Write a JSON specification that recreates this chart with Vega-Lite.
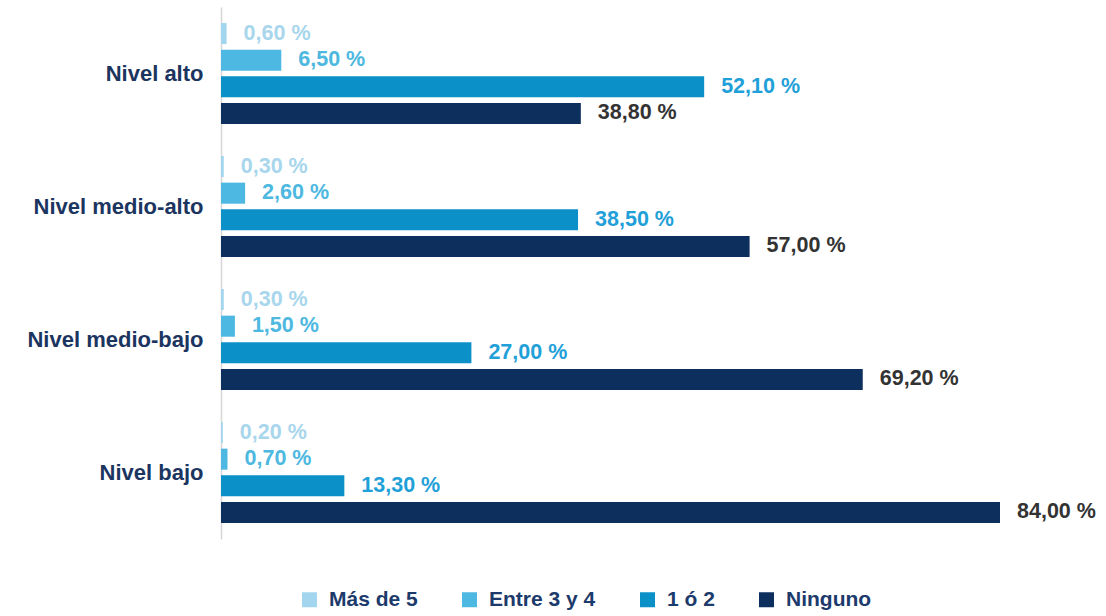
{
  "$schema": "https://vega.github.io/schema/vega-lite/v6.json",
  "width": 779,
  "height": 532,
  "autosize": {"type": "none"},
  "padding": {"left": 221, "top": 7, "right": 106, "bottom": 77},
  "background": "white",
  "data": {
    "values": [
      {"nivel": "Nivel alto", "serie": "Más de 5", "valor": 0.6},
      {"nivel": "Nivel alto", "serie": "Entre 3 y 4", "valor": 6.5},
      {"nivel": "Nivel alto", "serie": "1 ó 2", "valor": 52.1},
      {"nivel": "Nivel alto", "serie": "Ninguno", "valor": 38.8},
      {"nivel": "Nivel medio-alto", "serie": "Más de 5", "valor": 0.3},
      {"nivel": "Nivel medio-alto", "serie": "Entre 3 y 4", "valor": 2.6},
      {"nivel": "Nivel medio-alto", "serie": "1 ó 2", "valor": 38.5},
      {"nivel": "Nivel medio-alto", "serie": "Ninguno", "valor": 57.0},
      {"nivel": "Nivel medio-bajo", "serie": "Más de 5", "valor": 0.3},
      {"nivel": "Nivel medio-bajo", "serie": "Entre 3 y 4", "valor": 1.5},
      {"nivel": "Nivel medio-bajo", "serie": "1 ó 2", "valor": 27.0},
      {"nivel": "Nivel medio-bajo", "serie": "Ninguno", "valor": 69.2},
      {"nivel": "Nivel bajo", "serie": "Más de 5", "valor": 0.2},
      {"nivel": "Nivel bajo", "serie": "Entre 3 y 4", "valor": 0.7},
      {"nivel": "Nivel bajo", "serie": "1 ó 2", "valor": 13.3},
      {"nivel": "Nivel bajo", "serie": "Ninguno", "valor": 84.0}
    ]
  },
  "transform": [
    {"calculate": "replace(format(datum.valor, '.2f'), '.', ',') + ' %'", "as": "etiqueta"}
  ],
  "encoding": {
    "y": {
      "field": "nivel",
      "type": "nominal",
      "sort": ["Nivel alto", "Nivel medio-alto", "Nivel medio-bajo", "Nivel bajo"],
      "scale": {"paddingInner": 0, "paddingOuter": 0},
      "axis": {
        "title": null,
        "ticks": false,
        "grid": false,
        "domain": true,
        "domainColor": "#d6d6d6",
        "domainWidth": 1.5,
        "labelFont": "Liberation Sans",
        "labelFontWeight": "bold",
        "labelFontSize": 22,
        "labelColor": "#1c3560",
        "labelPadding": 18
      }
    },
    "yOffset": {
      "field": "serie",
      "type": "nominal",
      "sort": ["Más de 5", "Entre 3 y 4", "1 ó 2", "Ninguno"],
      "scale": {"paddingInner": 0.21, "paddingOuter": 0.6}
    },
    "x": {
      "field": "valor",
      "type": "quantitative",
      "scale": {"domain": [0, 84], "nice": false, "zero": true},
      "axis": null
    }
  },
  "layer": [
    {
      "mark": {"type": "bar"},
      "encoding": {
        "color": {
          "field": "serie",
          "type": "nominal",
          "scale": {
            "domain": ["Más de 5", "Entre 3 y 4", "1 ó 2", "Ninguno"],
            "range": ["#a3d5ee", "#4db8e2", "#0b90c8", "#0c2f5e"]
          },
          "legend": {
            "title": null,
            "orient": "none",
            "direction": "horizontal",
            "legendX": 78,
            "legendY": 582,
            "symbolType": "square",
            "symbolSize": 225,
            "symbolStrokeWidth": 0,
            "labelFont": "Liberation Sans",
            "labelFontWeight": "bold",
            "labelFontSize": 21,
            "labelColor": "#1c3a6b",
            "labelOffset": 9,
            "columnPadding": 41,
            "padding": 0
          }
        }
      }
    },
    {
      "mark": {
        "type": "text",
        "align": "left",
        "baseline": "middle",
        "dx": 17,
        "font": "Liberation Sans",
        "fontWeight": "bold",
        "fontSize": 21.5
      },
      "encoding": {
        "text": {"field": "etiqueta", "type": "nominal"},
        "color": {
          "field": "serie",
          "type": "nominal",
          "scale": {
            "domain": ["Más de 5", "Entre 3 y 4", "1 ó 2", "Ninguno"],
            "range": ["#a8d6ec", "#4db8e0", "#1fa0d8", "#333333"]
          },
          "legend": null
        }
      }
    }
  ],
  "resolve": {"scale": {"color": "independent"}},
  "config": {"view": {"stroke": null}}
}
